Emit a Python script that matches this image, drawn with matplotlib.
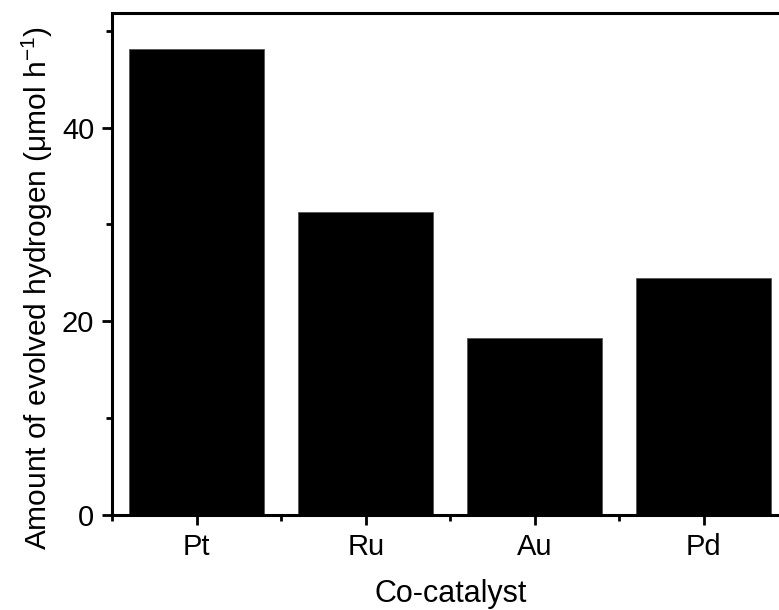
import matplotlib
matplotlib.use("Agg")
import matplotlib.pyplot as plt
from matplotlib.ticker import MultipleLocator, FixedLocator

plt.rcParams['font.family'] = ['Liberation Sans', 'DejaVu Sans']
plt.rcParams['mathtext.fontset'] = 'custom'
plt.rcParams['mathtext.rm'] = 'Liberation Sans'
plt.rcParams['mathtext.it'] = 'Liberation Sans:italic'

# Hydrogen evolution rate for each co-catalyst
catalysts = ['Pt', 'Ru', 'Au', 'Pd']
h2_rate = [48.1, 31.25, 18.3, 24.5]

fig = plt.figure(figsize=(7.79, 6.10), dpi=100)
ax = fig.add_axes([0.1442, 0.1562, 1.0118 - 0.1442, 0.9795 - 0.1562])

positions = list(range(1, len(catalysts) + 1))
ax.bar(positions, h2_rate, width=0.8, color='black', edgecolor='#555555', linewidth=0.6)

ax.set_xlim(0.5, len(catalysts) + 0.5)
ax.set_ylim(0, 51.9)

ax.set_xticks(positions)
ax.set_xticklabels(catalysts)
ax.xaxis.set_minor_locator(FixedLocator([p + 0.5 for p in [0] + positions]))
ax.yaxis.set_major_locator(MultipleLocator(20))
ax.yaxis.set_minor_locator(MultipleLocator(10))

for side in ax.spines.values():
    side.set_linewidth(2.2)

ax.tick_params(axis='both', which='major', direction='out', length=7, width=2.0,
               labelsize=21, pad=6)
ax.tick_params(axis='both', which='minor', direction='out', length=4, width=2.0)
ax.tick_params(top=False, right=False, which='both')

fig.text(0.578, 1 / 610, 'Co-catalyst', ha='center', va='bottom', fontsize=22)
fig.text(37 / 779, 0.528, 'Amount of evolved hydrogen (μmol h$^{-1}$)',
         rotation=90, ha='center', va='center', fontsize=21.5)

fig.savefig('out.png', dpi=100, facecolor='white')
